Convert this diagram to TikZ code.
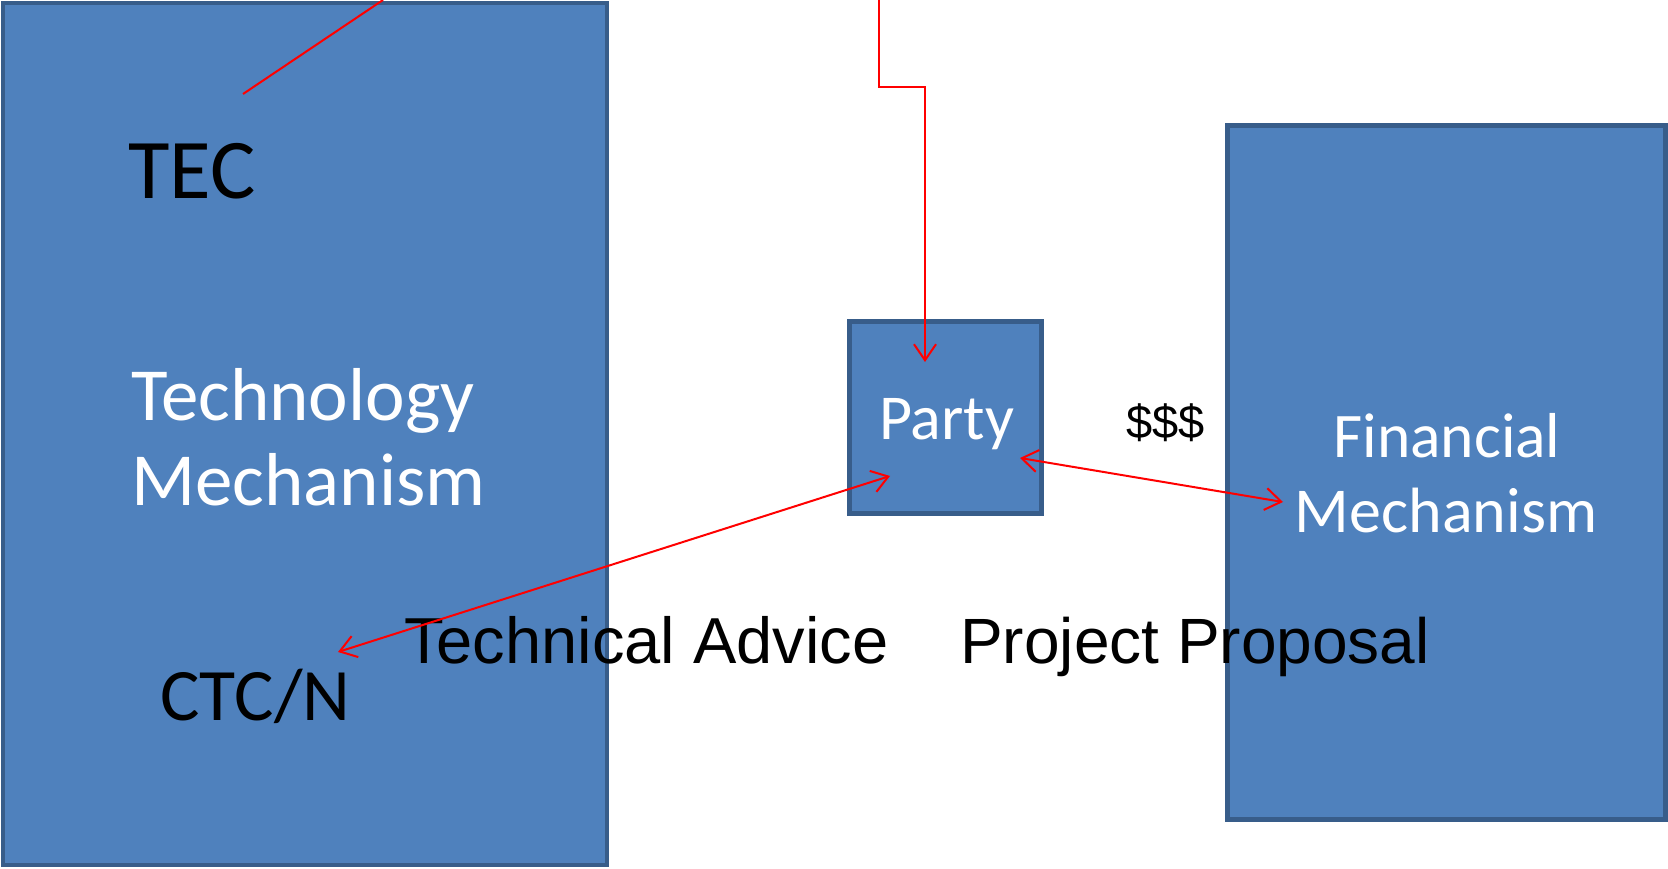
\documentclass[tikz,border=0pt]{standalone}
\usepackage{fontspec}
\setmainfont{Carlito}
\newfontfamily\arialf{Liberation Sans}
\usetikzlibrary{arrows.meta,calc}
\definecolor{boxfill}{HTML}{4F81BD}
\definecolor{boxline}{HTML}{385D8A}
\definecolor{linkred}{HTML}{FF0000}
\tikzset{
  mbox/.style={draw=boxline, fill=boxfill, line width=4.5pt, rectangle, inner sep=0pt},
  lbl/.style={inner sep=0pt, anchor=base west},
  clbl/.style={inner sep=0pt, anchor=base},
  link/.style={draw=linkred, line width=2pt},
  tip/.style={-{Straight Barb[length=16pt,width=22pt,line width=2pt]}},
  biTip/.style={{Straight Barb[length=16pt,width=22pt,line width=2pt]}-{Straight Barb[length=16pt,width=22pt,line width=2pt]}}
}
\newcommand{\fsz}[1]{\fontsize{#1}{#1}\selectfont}
\begin{document}
\begin{tikzpicture}[x=1pt,y=-1pt]
\useasboundingbox (0,0) rectangle (1668,869);
% boxes
\node[mbox, minimum width=604pt, minimum height=862pt] (tm) at (305,434) {};
\node[mbox, minimum width=438pt, minimum height=694pt] (fm) at (1446.5,472.5) {};
\node[mbox, minimum width=192pt, minimum height=192pt] (party) at (945.5,417.5) {};
% texts
\node[lbl, text=black] (tec) at (128,199) {\fsz{85}TEC};
\node[lbl, text=white] (tech1) at (131,420) {\fsz{75}Technology};
\node[lbl, text=white] (tech2) at (131,505) {\fsz{75}Mechanism};
\node[lbl, text=black] (ctcn) at (160,720) {\fsz{74}CTC/N};
\node[lbl, text=white] (partylbl) at (879,439) {\fsz{64}Party};
\node[clbl, text=white] (fin1) at (1447,457) {\fsz{63.5}Financial};
\node[clbl, text=white] (fin2) at (1446,532) {\fsz{64}Mechanism};
\node[lbl, text=black] (money) at (1126,438) {\arialf\fsz{47}\$\$\$};
\node[lbl, text=black] (advice) at (404,663) {\arialf\fsz{65}Technical Advice};
\node[lbl, text=black] (proposal) at (960,663) {\arialf\fsz{64}Project Proposal};
% connectors
\coordinate (tecTop) at (383,0);
\coordinate (elbowTop) at (879,-2);
\draw[link] ($(tm.center)+(-62,-340)$) -- (tecTop);
\draw[link, tip] (elbowTop) -- (879,87) -- (925,87) -- ($(party.center)+(-20.5,-55.5)$);
\draw[link, biTip] ($(tm.center)+(33,218)$) -- ($(party.center)+(-55.5,58.5)$);
\draw[link, biTip] ($(party.center)+(74.5,40.5)$) -- ($(fm.center)+(-163.5,29.5)$);
\end{tikzpicture}
\end{document}
